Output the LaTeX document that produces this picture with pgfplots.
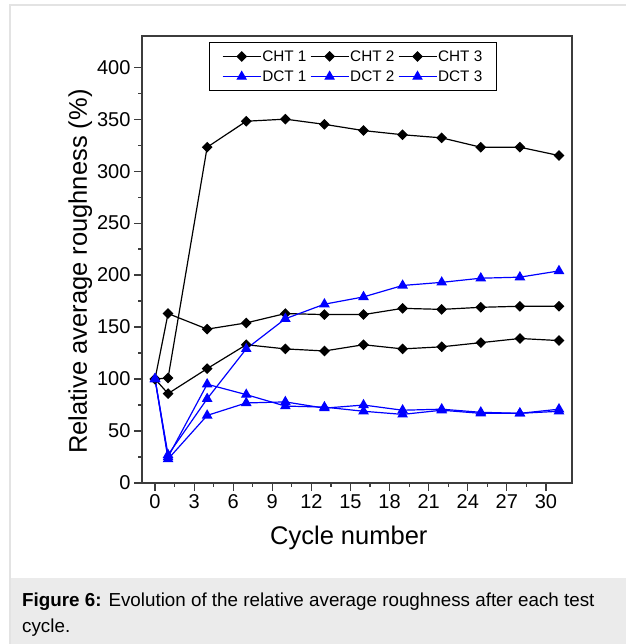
\documentclass[border=0pt]{standalone}
\usepackage{fontspec}
\setmainfont{Liberation Sans}
\usepackage{pgfplots}
\pgfplotsset{compat=1.18}
\definecolor{framegray}{HTML}{E3E3E3}
\definecolor{capgray}{HTML}{EBEBEB}
\definecolor{axgray}{HTML}{3C3C3C}
\definecolor{dctblue}{HTML}{0000FF}

\begin{document}
\begin{tikzpicture}[x=1bp,y=1bp]
\useasboundingbox (0,0) rectangle (626,644);
\fill[white] (0,0) rectangle (626,644);
\fill[capgray] (10,0) rectangle (626,66);
\draw[framegray, line width=1.5bp] (10,0) -- (10,639) -- (626,639);
\node[anchor=base west, inner sep=0pt, font=\fontsize{18.8bp}{24bp}\selectfont] at (22,37)
  {\textbf{Figure 6:} Evolution of the relative average roughness after each test};
\node[anchor=base west, inner sep=0pt, font=\fontsize{18.8bp}{24bp}\selectfont] at (22,11) {cycle.};

\begin{axis}[
  at={(142bp,161bp)}, anchor=south west, scale only axis,
  width=430bp, height=447bp,
  xmin=-1, xmax=32, ymin=0, ymax=430,
  xtick={0,3,...,30}, ytick={0,50,...,400},
  minor x tick num=1, minor y tick num=1,
  tick align=outside, tick pos=left,
  major tick length=8bp, minor tick length=4bp,
  axis line style={axgray, line width=1.5bp},
  every tick/.style={axgray, line width=1.2bp},
  tick label style={font=\fontsize{20bp}{24bp}\selectfont},
  /pgf/number format/assume math mode=true,
  xlabel={Cycle number}, ylabel={Relative average roughness (\%)},
  every axis x label/.style={at={(axis description cs:0.481,-0.1365)}, anchor=base,
    font=\fontsize{25.5bp}{30bp}\selectfont},
  every axis y label/.style={at={(axis description cs:-0.128,0.473)}, anchor=base, rotate=90,
    font=\fontsize{25.5bp}{30bp}\selectfont},
  legend columns=3,
  legend cell align=left,
  legend image code/.code={\draw[mark repeat=2,mark phase=2,#1] plot coordinates {(0bp,0bp) (19bp,0bp) (38bp,0bp)};},
  legend style={at={(0.49,0.9866)}, anchor=north, draw=black, line width=0.8bp,
    font=\fontsize{15.3bp}{18bp}\selectfont, inner xsep=13bp, inner ysep=7bp,
    nodes={inner sep=1bp, text depth=0.15em}, row sep=6bp,
    /tikz/every even column/.append style={column sep=2.5bp}},
  cht/.style={black, line width=1.2bp, mark=square*, mark size=3.2bp, mark options={rotate=45, solid}},
  dct/.style={dctblue, line width=1.2bp, mark=triangle*, mark size=5bp, mark options={solid}},
]
\addplot[cht] coordinates {(0,100)(1,101)(4,323)(7,348)(10,350)(13,345)(16,339)(19,335)(22,332)(25,323)(28,323)(31,315)};
\addlegendentry{CHT 1}
\addplot[cht] coordinates {(0,100)(1,163)(4,148)(7,154)(10,163)(13,162)(16,162)(19,168)(22,167)(25,169)(28,170)(31,170)};
\addlegendentry{CHT 2}
\addplot[cht] coordinates {(0,100)(1,86)(4,110)(7,133)(10,129)(13,127)(16,133)(19,129)(22,131)(25,135)(28,139)(31,137)};
\addlegendentry{CHT 3}
\addplot[dct] coordinates {(0,100)(1,27)(4,81)(7,129)(10,158)(13,172)(16,179)(19,190)(22,193)(25,197)(28,198)(31,204)};
\addlegendentry{DCT 1}
\addplot[dct] coordinates {(0,100)(1,25)(4,95)(7,85)(10,74)(13,73)(16,69)(19,66)(22,70)(25,67)(28,67)(31,69)};
\addlegendentry{DCT 2}
\addplot[dct] coordinates {(0,100)(1,23)(4,65)(7,77)(10,78)(13,72)(16,75)(19,70)(22,71)(25,68)(28,67)(31,71)};
\addlegendentry{DCT 3}
\end{axis}
\end{tikzpicture}
\end{document}
